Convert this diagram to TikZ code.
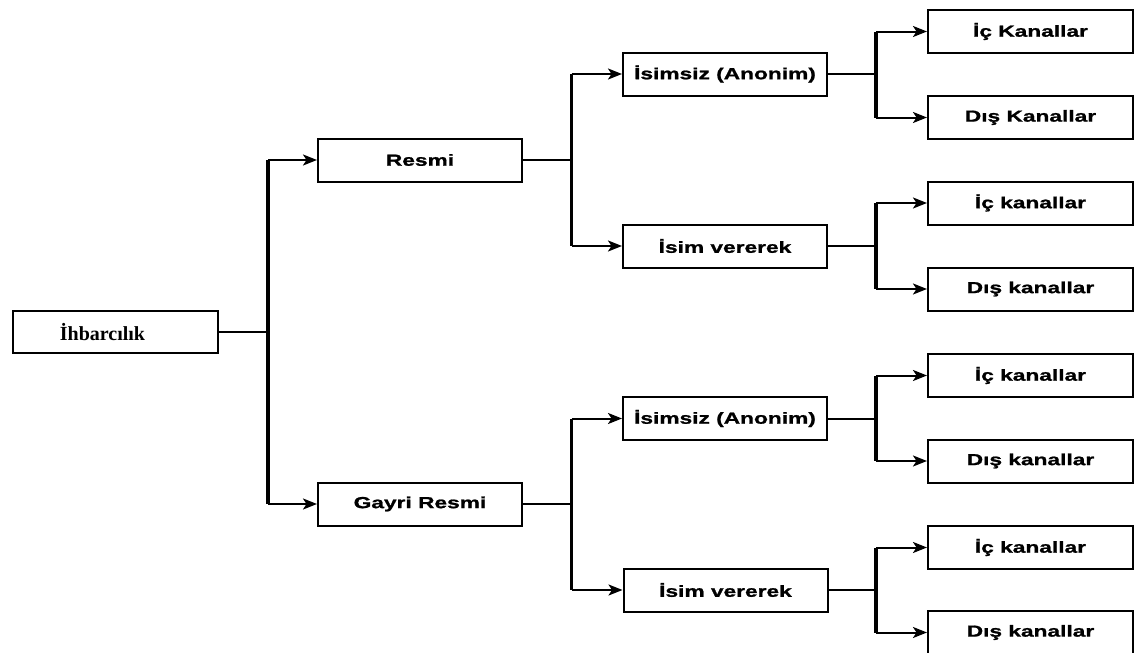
\documentclass[tikz,border=0pt]{standalone}
\usepackage{fontspec}
\setmainfont{Liberation Sans}[FakeStretch=1.42,BoldFeatures={FakeBold=1.2}]
\newfontfamily\serifbold{Liberation Serif}
\usetikzlibrary{arrows.meta}
\begin{document}
\begin{tikzpicture}[x=1pt,y=-1pt,
  box/.style={draw,line width=2pt,minimum height=43pt,inner sep=0pt,
    font=\fontsize{16}{18}\selectfont\bfseries},
  lvlbox/.style={box,minimum width=204pt},
  leafbox/.style={box,minimum width=205pt},
  link/.style={line width=2pt},
  trunk/.style={line width=3.2pt},
  branch/.style={line width=2pt,-{Stealth[length=14pt,width=11pt,inset=3.5pt]}}]
\useasboundingbox (0,0) rectangle (1135,653);

% root: label sits a little left of the box centre
\node[box,minimum width=205pt,minimum height=42pt,
  font=\fontsize{20}{22}\serifbold\bfseries] (root) at (115.5,332) {İhbarcılık\kern26pt\relax};

% first level
\node[lvlbox] (resmi) at (420,160) {Resmi};
\node[lvlbox] (gayri) at (420,504) {Gayri Resmi};

% second level
\node[lvlbox] (anon1) at (725,74) {İsimsiz (Anonim)};
\node[lvlbox] (isim1) at (725,246) {İsim vererek};
\node[lvlbox] (anon2) at (725,418.5) {İsimsiz (Anonim)};
\node[lvlbox] (isim2) at (725.5,590) {İsim vererek};

% leaves
\node[leafbox] (l1) at (1030.5,31.5) {İç Kanallar};
\node[leafbox] (l2) at (1030.5,117.5) {Dış Kanallar};
\node[leafbox] (l3) at (1030.5,203) {İç kanallar};
\node[leafbox] (l4) at (1030.5,289) {Dış kanallar};
\node[leafbox] (l5) at (1030.5,375.5) {İç kanallar};
\node[leafbox] (l6) at (1030.5,461) {Dış kanallar};
\node[leafbox] (l7) at (1030.5,547.5) {İç kanallar};
\node[leafbox] (l8) at (1030.5,632.5) {Dış kanallar};

% forks: parent -> junction -> two children
\foreach \p/\a/\b/\jx in {root/resmi/gayri/268,
                          resmi/anon1/isim1/571.5,
                          gayri/anon2/isim2/571.5,
                          anon1/l1/l2/876,
                          isim1/l3/l4/876,
                          anon2/l5/l6/876,
                          isim2/l7/l8/876}{
  \draw[link] (\p.east) -- (\p.east -| {(\jx,0)});
  \draw[trunk] (\a.west -| {(\jx,0)}) -- (\b.west -| {(\jx,0)});
  \draw[branch] (\a.west -| {(\jx,0)}) -- (\a.west);
  \draw[branch] (\b.west -| {(\jx,0)}) -- (\b.west);
}
\end{tikzpicture}
\end{document}
